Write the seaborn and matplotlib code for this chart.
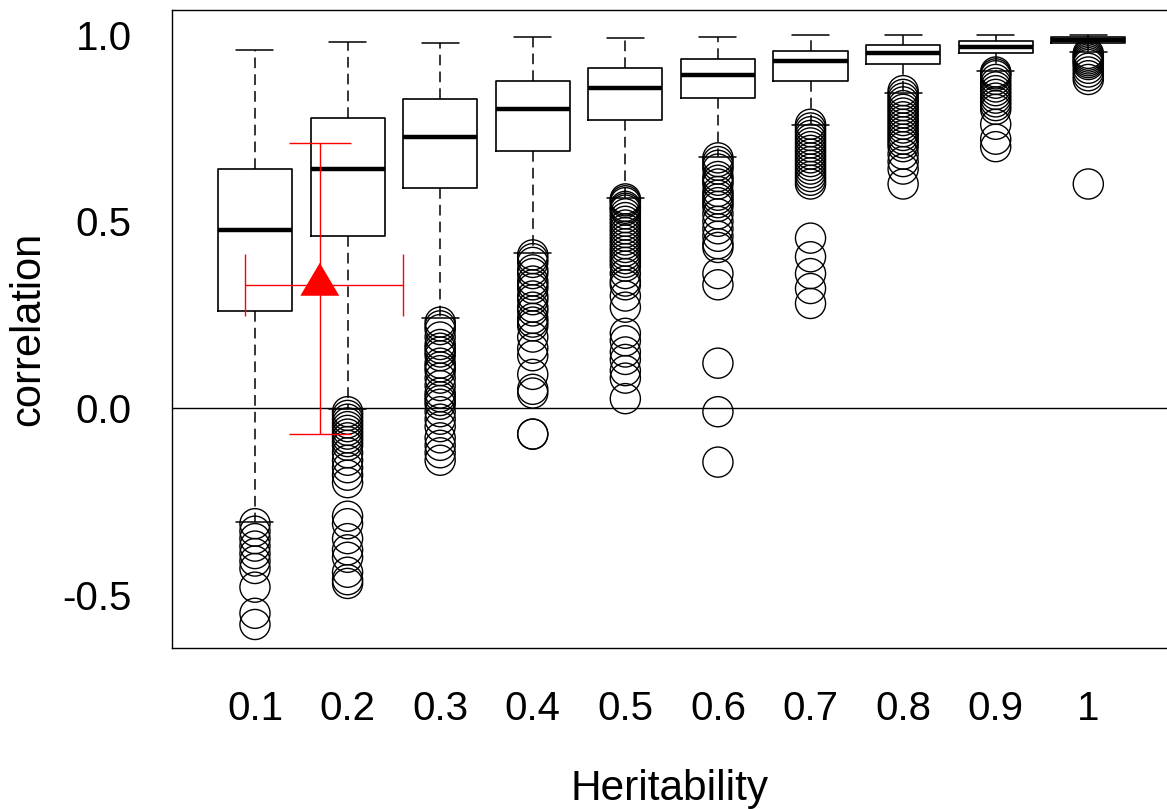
import numpy as np
import pandas as pd
import matplotlib
matplotlib.use("Agg")
import matplotlib.pyplot as plt
import seaborn as sns

# five-number summaries
heritability = [0.1, 0.2, 0.3, 0.4, 0.5, 0.6, 0.7, 0.8, 0.9, 1.0]
tick_labels = ["0.1", "0.2", "0.3", "0.4", "0.5", "0.6", "0.7", "0.8", "0.9", "1"]
whisker_lo = [-0.305, -0.003, 0.241, 0.414, 0.563, 0.673, 0.758, 0.845, 0.903, 0.953]
q1 = [0.260, 0.461, 0.590, 0.689, 0.771, 0.830, 0.877, 0.921, 0.950, 0.978]
median = [0.477, 0.641, 0.727, 0.800, 0.856, 0.893, 0.930, 0.950, 0.968, 0.985]
q3 = [0.640, 0.776, 0.829, 0.875, 0.910, 0.934, 0.956, 0.971, 0.984, 0.993]
whisker_hi = [0.958, 0.981, 0.979, 0.995, 0.992, 0.993, 0.998, 0.999, 1.0, 1.0]

# outlying correlations per heritability level
outliers = [
    [-0.31, -0.33, -0.35, -0.37, -0.39, -0.41, -0.43, -0.48, -0.55, -0.58],
    [-0.01, -0.02, -0.03, -0.04, -0.05, -0.06, -0.07, -0.08, -0.09, -0.10,
     -0.12, -0.14, -0.16, -0.18, -0.20, -0.29, -0.31, -0.35, -0.38, -0.40,
     -0.44, -0.46, -0.47],
    [0.23, 0.22, 0.21, 0.19, 0.17, 0.16, 0.15, 0.14, 0.12, 0.11, 0.10, 0.08,
     0.06, 0.04, 0.03, 0.02, 0.01, -0.01, -0.03, -0.05, -0.08, -0.10, -0.12, -0.14],
    [0.41, 0.40, 0.39, 0.37, 0.36, 0.34, 0.33, 0.32, 0.30, 0.29, 0.27, 0.26,
     0.24, 0.23, 0.22, 0.19, 0.16, 0.14, 0.09, 0.05, 0.04, -0.07, -0.07],
    [0.56, 0.555, 0.55, 0.54, 0.535, 0.53, 0.52, 0.51, 0.50, 0.49, 0.48, 0.47,
     0.46, 0.45, 0.44, 0.43, 0.42, 0.41, 0.40, 0.39, 0.38, 0.36, 0.34, 0.33,
     0.30, 0.27, 0.20, 0.18, 0.15, 0.13, 0.10, 0.08, 0.025],
    [0.67, 0.66, 0.65, 0.64, 0.62, 0.61, 0.60, 0.58, 0.57, 0.56, 0.55, 0.54,
     0.52, 0.50, 0.48, 0.46, 0.44, 0.43, 0.36, 0.33, 0.12, -0.01, -0.145],
    [0.76, 0.75, 0.74, 0.73, 0.72, 0.71, 0.70, 0.69, 0.68, 0.67, 0.66, 0.65,
     0.64, 0.63, 0.62, 0.61, 0.60, 0.455, 0.405, 0.36, 0.32, 0.28],
    [0.85, 0.84, 0.83, 0.82, 0.81, 0.80, 0.79, 0.78, 0.77, 0.76, 0.75, 0.74,
     0.73, 0.72, 0.71, 0.70, 0.68, 0.66, 0.64, 0.60],
    [0.90, 0.895, 0.89, 0.88, 0.87, 0.86, 0.85, 0.84, 0.83, 0.82, 0.81, 0.80,
     0.76, 0.72, 0.70],
    [0.95, 0.945, 0.94, 0.935, 0.93, 0.925, 0.92, 0.91, 0.90, 0.89, 0.88, 0.60],
]

# red estimate with its error bars
est_h = 0.17
est_corr = 0.33
est_h_lo, est_h_hi = 0.089, 0.26
est_corr_lo, est_corr_hi = -0.07, 0.711

yticks = [-0.5, 0.0, 0.5, 1.0]
ytick_labels = ["-0.5", "0.0", "0.5", "1.0"]

box_rows = []
for i, h in enumerate(heritability):
    for v in (whisker_lo[i], q1[i], median[i], q3[i], whisker_hi[i]):
        box_rows.append({"heritability": h, "correlation": v})
box_df = pd.DataFrame(box_rows)

out_rows = []
for h, vals in zip(heritability, outliers):
    for v in vals:
        out_rows.append({"heritability": h, "correlation": v})
out_df = pd.DataFrame(out_rows)

sns.set_theme(style="white")
plt.rcParams["font.family"] = ["Liberation Sans", "DejaVu Sans"]

fig = plt.figure(figsize=(11.67, 8.09), dpi=100)
ax = fig.add_axes([0.1474, 0.199, 0.8526, 0.7886])

sns.boxplot(data=box_df, x="heritability", y="correlation", native_scale=True,
            whis=np.inf, fill=False, color="black", linewidth=1.2, width=0.8,
            showfliers=False,
            medianprops={"linewidth": 3.2, "color": "black"},
            whiskerprops={"linestyle": (0, (7, 4)), "linewidth": 1.1},
            capprops={"linewidth": 1.1}, ax=ax)

sns.scatterplot(data=out_df, x="heritability", y="correlation", marker="o",
                s=470, facecolor="none", edgecolor="black", linewidth=1.0,
                ax=ax, zorder=3)

ax.axhline(0, color="black", linewidth=1.0, zorder=1)

ax.errorbar([est_h], [est_corr],
            xerr=[[est_h - est_h_lo], [est_h_hi - est_h]],
            yerr=[[est_corr - est_corr_lo], [est_corr_hi - est_corr]],
            fmt="none", ecolor="red", elinewidth=1.0, capsize=22, capthick=1.0,
            zorder=4)
# filled triangle whose base sits a little below the crossing point
tri = [(0, 1), (-0.886, -0.5), (0.886, -0.5), (0, 1)]
sns.scatterplot(x=[est_h], y=[est_corr], marker=tri, s=1000, color="red",
                edgecolor="none", ax=ax, zorder=5)

ax.set_xlim(0.0104, 1.085)
ax.set_ylim(-0.643, 1.066)
ax.set_xticks(heritability)
ax.set_xticklabels(tick_labels)
ax.set_yticks(yticks)
ax.set_yticklabels(ytick_labels)

ax.tick_params(axis="both", direction="out", length=15, width=0.9,
               color="#666666", labelsize=29, labelcolor="black")
ax.tick_params(axis="x", pad=15)
ax.tick_params(axis="y", pad=14)
ax.set_xlabel("Heritability", fontsize=30.5, labelpad=30, color="black")
ax.set_ylabel("correlation", fontsize=30, labelpad=10, color="black")

for side in ["left", "bottom", "top"]:
    ax.spines[side].set_visible(True)
    ax.spines[side].set_color("black")
    ax.spines[side].set_linewidth(1.0)
ax.spines["right"].set_visible(False)

fig.savefig("out.png", dpi=100)
